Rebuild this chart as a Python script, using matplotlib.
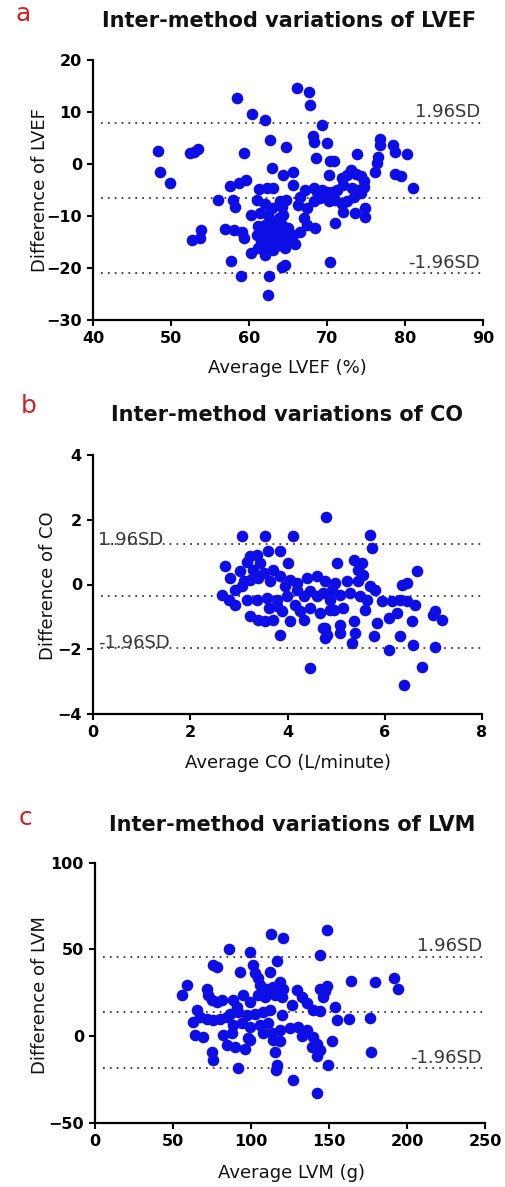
import matplotlib
matplotlib.use("Agg")
import matplotlib.pyplot as plt
import matplotlib.transforms as mtransforms

# ---------------- data ----------------
lvef_avg = [66.1, 67.7, 67.8, 58.5, 60.4, 62.0, 69.3,
            62.7, 64.7, 68.2, 68.3, 70.0, 68.6, 70.4, 70.9,
            76.8, 76.8, 76.5, 76.4, 76.2, 73.9, 78.5, 78.75, 80.2, 78.7, 79.5, 81.0,
            48.35, 48.6, 49.9, 52.4, 53.0, 53.5,
            59.4, 63.0, 70.2, 65.7, 64.4,
            71.9, 72.5, 73.1, 73.7, 74.3, 74.8,
            59.6, 58.75, 57.5, 61.3, 62.3, 63.1,
            65.7, 67.2, 68.3, 68.7, 69.3, 70.0, 70.6, 71.3, 72.1, 73.2, 74.0, 74.7,
            64.0, 64.7, 66.5, 66.3, 67.4, 68.3, 69.1, 70.2, 71.0, 71.9, 72.5, 73.4, 74.3,
            72.1, 73.6, 74.9, 74.9, 71.0, 68.5, 67.0, 67.4, 66.5,
            65.7, 65.3, 64.6, 64.0, 64.0, 64.4, 65.0, 65.9, 70.4, 64.6, 64.2,
            56.0, 58.0, 58.2, 60.3, 61.0, 62.0,
            53.8, 52.7, 53.7,
            56.9, 58.1, 59.05, 59.4, 60.3, 57.7, 59.0, 62.5, 62.4,
            61.2, 62.0, 62.9, 63.8, 64.4,
            61.0, 61.8, 62.7, 63.6,
            61.6, 62.5, 63.3, 64.2,
            61.2, 62.3, 63.1, 63.8, 62.0,
            62.9, 63.8, 64.2, 64.2, 64.2, 62.4, 61.4]
lvef_diff = [14.7, 13.8, 11.35, 12.75, 9.55, 8.5, 7.5,
             4.7, 3.3, 5.3, 4.3, 4.1, 1.2, 0.6, 0.6,
             4.9, 3.7, 1.4, 0.1, -1.5, 1.9, 3.7, 2.4, 1.9, -2.0, -2.4, -4.7,
             2.5, -1.6, -3.7, 2.05, 2.4, 2.9,
             2.2, -0.8, -2.1, -1.5, -2.1,
             -2.75, -2.1, -1.15, -2.0, -2.4, -3.3,
             -3.1, -3.6, -4.2, -4.9, -4.7, -4.55,
             -4.0, -5.0, -4.7, -5.3, -5.0, -5.3, -5.3, -5.0, -4.0, -4.7, -5.0, -4.4,
             -7.2, -6.9, -6.3, -7.9, -8.5, -7.2, -6.6, -7.2, -6.9, -7.6, -7.2, -6.3, -5.6,
             -9.2, -9.5, -8.5, -10.1, -11.4, -12.4, -10.4, -11.7, -13.0,
             -13.7, -14.9, -16.2, -10.4, -12.4, -13.7, -12.4, -15.3, -18.8, -19.4, -19.9,
             -7.0, -6.9, -8.2, -9.8, -6.9, -7.6,
             -12.6, -14.6, -14.2,
             -12.5, -12.7, -13.0, -14.3, -17.2, -18.6, -21.5, -21.5, -25.2,
             -12.0, -11.7, -11.1, -10.4, -9.8,
             -13.6, -13.3, -13.0, -12.7,
             -14.9, -14.9, -14.6, -14.3,
             -16.2, -16.2, -16.5, -15.6, -17.5,
             -8.5, -7.9, -8.2, -11.7, -13.3, -9.8, -9.5]
lvef_limits = [7.9, -6.5, -21.0]

co_avg = [3.06, 3.54, 4.12, 3.59, 3.84, 3.23, 3.37, 3.16, 3.44, 4.02, 2.72,
          3.03, 3.30, 3.51, 3.71, 2.82, 3.10, 3.23, 3.40, 3.64, 3.85, 4.06, 3.95,
          4.19, 4.40, 4.60, 4.78, 2.92, 3.06, 2.65, 2.79, 2.92,
          3.16, 3.37, 3.58, 3.78, 3.99, 4.19, 4.33, 4.47, 4.60, 4.74, 4.91,
          3.61, 3.78, 3.88, 4.16, 4.26, 4.47, 4.67, 4.88,
          3.23, 3.40, 3.54, 3.71, 4.06, 4.33, 3.85, 4.74, 4.81,
          4.79, 5.70, 5.73, 5.01, 5.36, 5.53, 5.46, 5.56, 6.66,
          4.98, 5.22, 5.46, 5.70, 5.80, 6.35, 6.45,
          4.88, 5.08, 5.29, 5.49, 5.63, 5.94, 6.15, 6.32, 6.45, 6.63,
          4.95, 5.15, 5.60, 6.08, 6.25, 5.84, 6.56, 7.04, 7.18,
          5.08, 5.36, 4.77, 5.08, 5.39, 5.77, 6.32,
          4.46, 6.08, 6.39, 6.77, 6.59, 7.04, 5.32, 4.77, 7.0]
co_diff = [1.51, 1.51, 1.51, 1.05, 1.02, 0.87, 0.92, 0.71, 0.66, 0.66, 0.56,
           0.41, 0.46, 0.35, 0.46, 0.2, 0.1, 0.15, 0.2, 0.1, 0.25, 0.15, -0.06,
           0.04, 0.2, 0.25, 0.1, -0.16, -0.06, -0.31, -0.47, -0.62,
           -0.47, -0.47, -0.42, -0.47, -0.37, -0.16, -0.37, -0.21, -0.37, -0.27, -0.16,
           -0.73, -0.67, -0.83, -0.62, -0.83, -0.73, -0.88, -0.78,
           -0.98, -1.09, -1.14, -1.09, -1.14, -1.09, -1.55, -1.34, -1.55,
           2.09, 1.54, 1.13, 0.66, 0.77, 0.66, 0.46, 0.3, 0.41,
           0.04, 0.1, 0.1, -0.06, -0.16, 0.0, 0.04,
           -0.47, -0.31, -0.26, -0.37, -0.47, -0.52, -0.52, -0.47, -0.52, -0.62,
           -0.78, -0.73, -0.78, -1.03, -0.88, -1.19, -1.14, -0.83, -1.09,
           -1.24, -1.14, -1.34, -1.5, -1.5, -1.6, -1.58,
           -2.59, -2.03, -3.11, -2.54, -1.87, -1.92, -1.82, -1.66, -0.95]
co_limits = [1.25, -0.35, -1.95]

lvm_avg = [112.6, 120.7, 148.5, 86.1, 99.4, 144.2, 116.5, 75.9, 78.0, 101.5, 93.0,
           112.2, 102.6, 104.7, 58.8, 55.6, 71.6, 72.7, 74.8, 78.0, 81.2,
           105.8, 110.1, 114.3, 118.6, 120.7, 104.7, 109.0, 115.4, 119.7,
           129.3, 132.5, 135.7, 144.2, 146.4, 140.0, 88.7, 90.8, 95.1, 99.4,
           65.2, 67.3, 63.0, 71.6, 75.9, 80.1, 84.4, 64.1, 69.5,
           86.6, 91.9, 97.2, 102.6, 107.9, 112.2, 88.7, 94.1, 99.4, 105.8, 111.1,
           119.7, 126.1, 118.6, 125.0, 130.4, 135.7, 140.0,
           82.3, 87.6, 98.3, 107.9, 114.3, 84.4, 89.8, 96.2, 99.4,
           74.8, 115.4, 142.1, 144.2, 138.9,
           191.7, 194.0, 179.5, 164.1, 163.0, 176.3, 176.7, 153.8, 155.0, 151.7,
           149.6, 149.0, 142.1, 142.1, 127.1, 116.5, 116.0, 91.9, 75.9,
           144.2, 132.5, 118.6, 113.2, 147.4]
lvm_diff = [58.9, 56.4, 61.2, 50.2, 48.7, 46.8, 43.5, 41.0, 39.7, 41.0, 37.2,
            37.2, 36.2, 33.3, 29.5, 23.7, 27.5, 23.7, 20.8, 19.9, 20.8,
            29.5, 27.5, 28.5, 31.4, 27.5, 23.7, 22.7, 23.7, 22.7,
            26.6, 22.7, 18.9, 27.5, 22.7, 15.0, 20.8, 17.0, 23.7, 19.9,
            15.0, 11.2, 8.3, 10.2, 9.3, 10.2, 11.2, 0.6, -0.3,
            13.1, 14.1, 12.2, 13.1, 14.1, 15.0, 6.4, 7.4, 5.4, 6.4, 7.4,
            12.2, 17.9, 3.5, 4.5, 5.4, 3.5, -0.3,
            0.6, 1.6, -1.3, 1.6, -2.3, -5.1, -6.1, -7.1, -2.3,
            -9.0, -9.0, -4.2, -8.0, -6.1,
            33.4, 27.3, 31.1, 32.1, 9.8, 10.4, -9.3, 17.1, 9.5, -3.0,
            -16.4, 29.0, -11.6, -32.7, -25.1, -16.4, -19.7, -18.4, -13.9,
            14.3, -0.1, -3.0, 1.8, 25.8]
lvm_limits = [45.9, 13.7, -18.4]

panel_letters = ["a", "b", "c"]
titles = ["Inter-method variations of LVEF", "Inter-method variations of CO",
          "Inter-method variations of LVM"]
xlabels = ["Average LVEF (%)", "Average CO (L/minute)", "Average LVM (g)"]
ylabels = ["Difference of LVEF", "Difference of CO", "Difference of LVM"]
xticks_list = [[40, 50, 60, 70, 80, 90], [0, 2, 4, 6, 8], [0, 50, 100, 150, 200, 250]]
yticks_list = [[-30, -20, -10, 0, 10, 20], [-4, -2, 0, 2, 4], [-50, 0, 50, 100]]
sd_labels = ["1.96SD", "-1.96SD"]

# ---------------- layout ----------------
W, H = 505, 1187
fig = plt.figure(figsize=(W / 100, H / 100), dpi=100)
fig.patch.set_facecolor("white")

def rect(l, t, r, b):
    return [l / W, 1 - b / H, (r - l) / W, (b - t) / H]

def ftext(x, y, s, **kw):
    fig.text(x / W, 1 - y / H, s, **kw)

panels = [
    dict(rect=rect(93, 60, 483, 320), x=lvef_avg, y=lvef_diff, lim=lvef_limits,
         title_xy=(289, 21), letter_xy=(23, 14), xlab_xy=(287, 368), ylab_xy=(40, 190),
         sd_side="right", sd_off=(4.3, 3.6), xmin_line=0.02),
    dict(rect=rect(93, 455, 482, 714), x=co_avg, y=co_diff, lim=co_limits,
         title_xy=(287, 415), letter_xy=(29, 406), xlab_xy=(288, 763), ylab_xy=(48, 586),
         sd_side="left", sd_off=(-0.5, -0.5), xmin_line=0.02),
    dict(rect=rect(95, 862.7, 485, 1123), x=lvm_avg, y=lvm_diff, lim=lvm_limits,
         title_xy=(292, 825), letter_xy=(25, 818), xlab_xy=(291, 1173), ylab_xy=(40, 995),
         sd_side="right", sd_off=(4.0, 3.6), xmin_line=0.02),
]

blue = "#0d0de6"
linecol = "#3c3c3c"

for i, p in enumerate(panels):
    ax = fig.add_axes(p["rect"])
    xt, yt = xticks_list[i], yticks_list[i]
    ax.set_xlim(xt[0], xt[-1])
    ax.set_ylim(yt[0], yt[-1])
    ax.set_xticks(xt)
    ax.set_yticks(yt)
    for s in ["top", "right"]:
        ax.spines[s].set_visible(False)
    for s in ["left", "bottom"]:
        ax.spines[s].set_linewidth(1.6)
        ax.spines[s].set_color("black")
    ax.tick_params(direction="out", length=4, width=1.5, colors="black")
    ax.tick_params(axis="x", pad=4)
    ax.tick_params(axis="y", pad=4)
    for lab in ax.get_xticklabels() + ax.get_yticklabels():
        lab.set_fontfamily("DejaVu Sans")
        lab.set_fontweight("bold")
        lab.set_fontsize(11.5)

    # limits of agreement lines
    for v in p["lim"]:
        ax.axhline(v, xmin=p["xmin_line"], xmax=1.0, color=linecol, lw=1.3,
                   ls=(0, (1, 2.8)), zorder=1)

    ax.scatter(p["x"], p["y"], s=70, color=blue, linewidths=0, zorder=3, clip_on=False)

    trans = mtransforms.blended_transform_factory(ax.transAxes, ax.transData)
    up, _, lo = p["lim"]
    if p["sd_side"] == "right":
        xa, ha = 0.993, "right"
    else:
        xa, ha = 0.012, "left"
    for lbl, v, off in zip(sd_labels, [up, lo], p["sd_off"]):
        ax.annotate(lbl, xy=(xa, v), xycoords=trans, xytext=(0, off),
                    textcoords="offset points", ha=ha, va="baseline",
                    fontsize=13, color="#383838", family="DejaVu Sans", zorder=4)

    ftext(*p["title_xy"], titles[i], ha="center", va="center", fontsize=15,
          fontweight="bold", family="DejaVu Sans", color="#111111")
    ftext(*p["letter_xy"], panel_letters[i], ha="center", va="center", fontsize=18,
          color="#d42020", family="DejaVu Sans")
    ftext(*p["xlab_xy"], xlabels[i], ha="center", va="center", fontsize=13,
          family="DejaVu Sans", color="#111111")
    ftext(*p["ylab_xy"], ylabels[i], ha="center", va="center", fontsize=13,
          rotation=90, family="DejaVu Sans", color="#111111")

fig.savefig("out.png", dpi=100, facecolor="white")
